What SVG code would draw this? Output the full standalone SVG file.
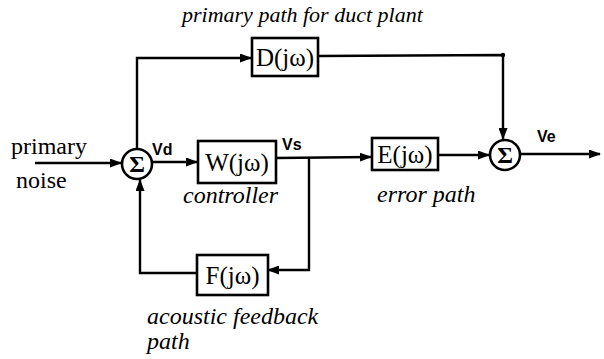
<svg xmlns="http://www.w3.org/2000/svg" width="604" height="359" viewBox="0 0 604 359">
<defs>
<marker id="ah" markerWidth="12" markerHeight="9" refX="11" refY="4.5" orient="auto" markerUnits="userSpaceOnUse">
<path d="M0,0 L12,4.5 L0,9 Z" fill="#000"/>
</marker>
</defs>
<style>
.ln{fill:none;stroke:#000;stroke-width:2.4}
.bx{fill:#fff;stroke:#000;stroke-width:2.6}
.bl{font-family:"Liberation Serif",serif;font-size:25px;fill:#000;text-anchor:middle}
.it{font-family:"Liberation Serif",serif;font-style:italic;font-size:24px;fill:#000}
.rg{font-family:"Liberation Serif",serif;font-size:24px;fill:#000}
.sg{font-family:"Liberation Serif",serif;font-size:24px;font-weight:bold;fill:#000;text-anchor:middle}
.vl{font-family:"Liberation Sans",sans-serif;font-size:16px;font-weight:bold;fill:#000}
</style>
<rect width="604" height="359" fill="#fff"/>
<g id="connectors">
<line class="ln" x1="35" y1="163" x2="121" y2="163" marker-end="url(#ah)"/>
<line class="ln" x1="152" y1="162" x2="197" y2="162" marker-end="url(#ah)"/>
<polyline class="ln" points="137,149 137,58 251,58" marker-end="url(#ah)"/>
<polyline class="ln" points="318,56 503,55 503,139" marker-end="url(#ah)"/>
<line class="ln" x1="276" y1="158" x2="371" y2="157" marker-end="url(#ah)"/>
<line class="ln" x1="438" y1="155" x2="489" y2="155" marker-end="url(#ah)"/>
<line class="ln" x1="520" y1="154" x2="600" y2="154" marker-end="url(#ah)"/>
<polyline class="ln" points="309,158 309,270 268,270" marker-end="url(#ah)"/>
<polyline class="ln" points="197,273 140,273 140,180" marker-end="url(#ah)"/>
<circle cx="503" cy="55" r="2.2" fill="#000"/>
</g>
<g id="sum1">
<circle cx="137" cy="164" r="15" fill="#fff" stroke="#000" stroke-width="2.6"/>
<text class="sg" x="137" y="172">Σ</text>
</g>
<g id="sum2">
<circle cx="505" cy="155" r="15" fill="#fff" stroke="#000" stroke-width="2.6"/>
<text class="sg" x="505" y="163">Σ</text>
</g>
<g id="D">
<rect class="bx" x="252" y="38" width="66" height="38"/>
<text class="bl" x="285" y="66">D(jω)</text>
</g>
<g id="W">
<rect class="bx" x="198" y="141" width="78" height="42"/>
<text class="bl" x="237" y="171">W(jω)</text>
</g>
<g id="E">
<rect class="bx" x="372" y="138" width="66" height="32"/>
<text class="bl" x="405" y="163">E(jω)</text>
</g>
<g id="F">
<rect class="bx" x="197" y="255" width="71" height="40"/>
<text class="bl" x="232.5" y="284">F(jω)</text>
</g>
<g id="labels">
<text class="it" x="182" y="22" style="font-size:22px">primary path for duct plant</text>
<text class="rg" x="11" y="154">primary</text>
<text class="rg" x="16" y="188">noise</text>
<text class="vl" x="152" y="155">Vd</text>
<text class="vl" x="282" y="150">Vs</text>
<text class="vl" x="537" y="142">Ve</text>
<text class="it" x="183" y="203">controller</text>
<text class="it" x="377" y="202">error path</text>
<text class="it" x="147" y="324">acoustic feedback</text>
<text class="it" x="147" y="349">path</text>
</g>
</svg>
